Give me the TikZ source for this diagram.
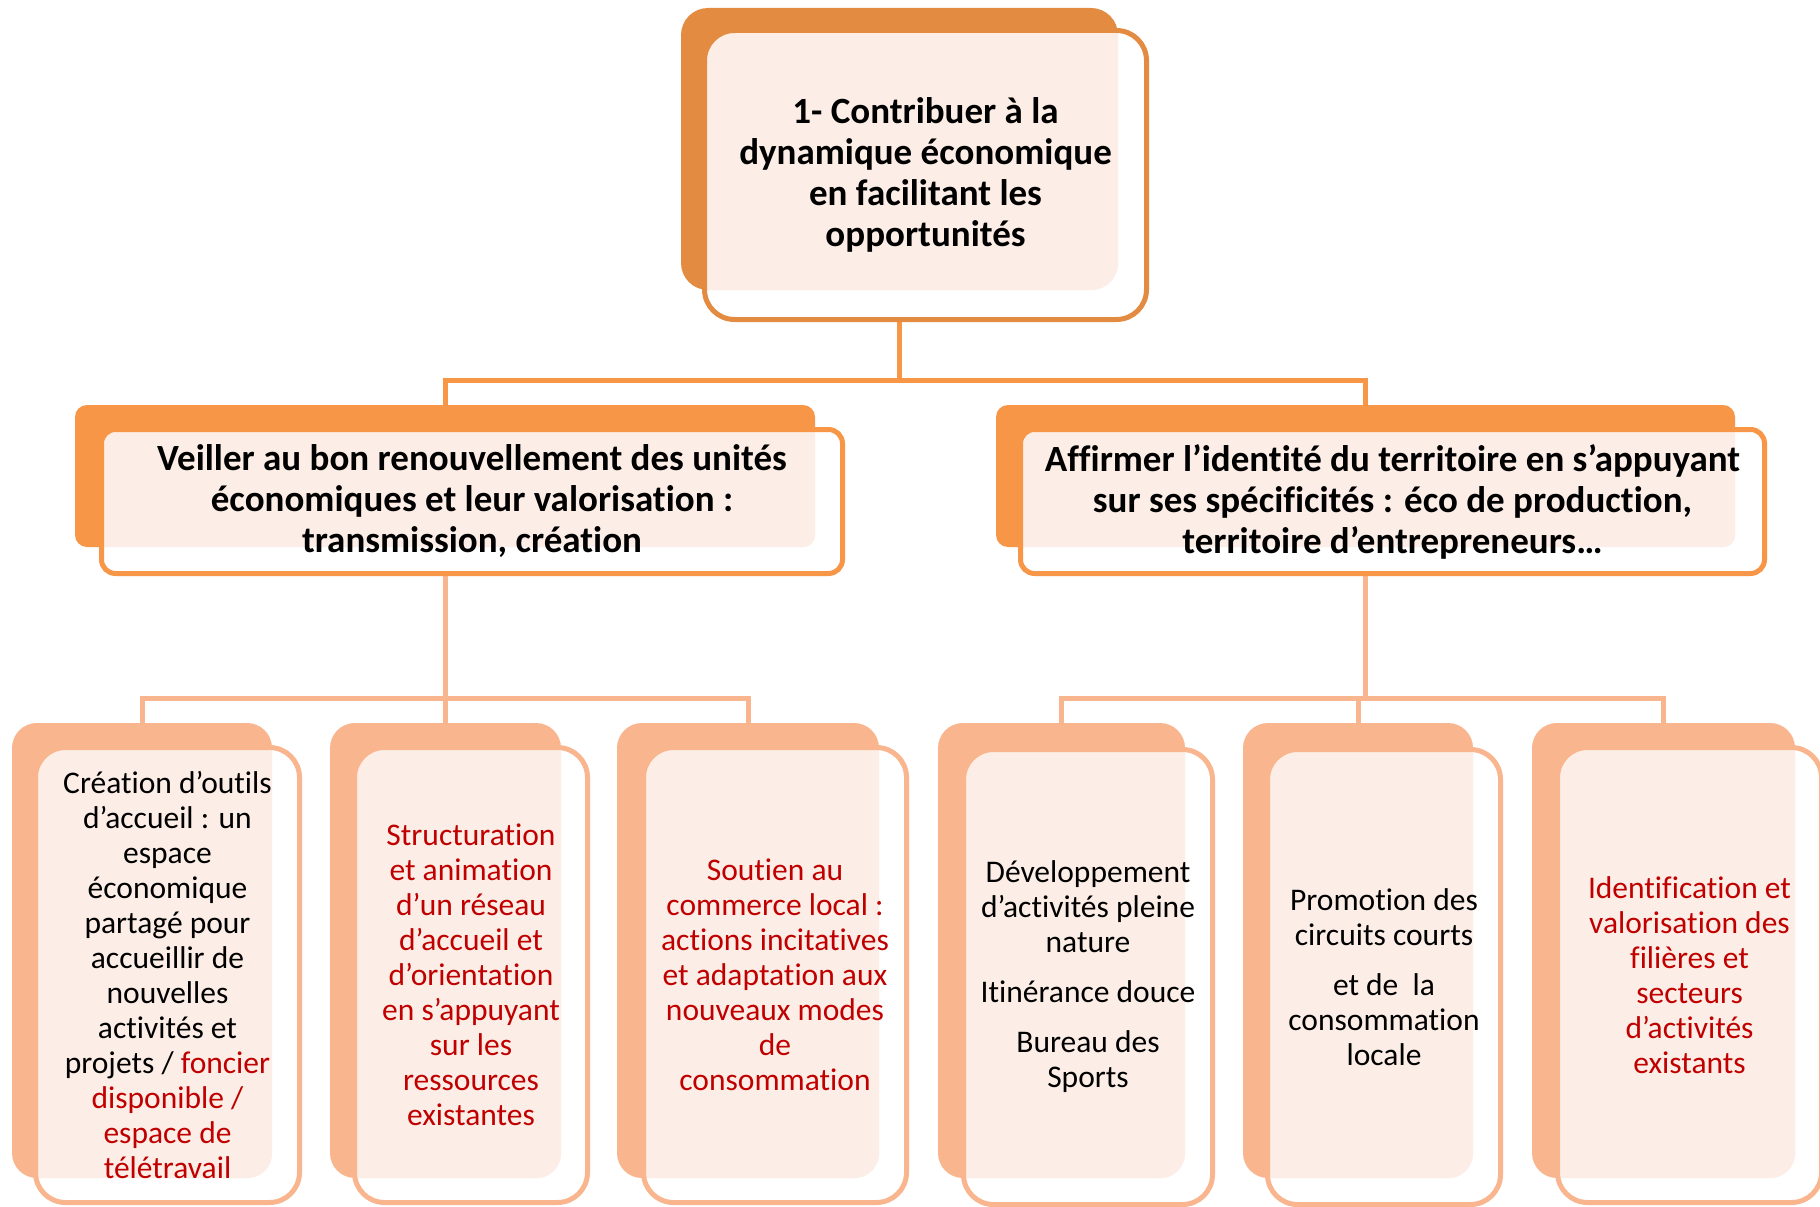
\documentclass[tikz,border=0pt]{standalone}
\usepackage{fontspec}
\setmainfont{Carlito}[Ligatures={NoCommon}]
\usetikzlibrary{calc}
\definecolor{topc}{HTML}{E38B41}
\definecolor{midc}{HTML}{F79646}
\definecolor{lowc}{HTML}{F9B58E}
\definecolor{pinkc}{HTML}{FCEEE6}
\definecolor{redc}{HTML}{C00000}
\tikzset{
  bk/.style={rectangle, inner sep=0pt, fill=#1},
  fr/.style={rectangle, inner sep=0pt, fill=white, draw=#1, line width=5pt, align=center},
  pk/.style 2 args={path picture={\fill[pinkc, rounded corners=#2] ([xshift=-40pt,yshift=40pt]path picture bounding box.north west) rectangle (#1.south east);}},
  tA/.style={font=\fontsize{37}{41}\selectfont\bfseries},
  tC/.style={font=\fontsize{31.5}{35}\selectfont},
  cA/.style={draw=midc, line width=5pt},
  cB/.style={draw=lowc, line width=5pt},
  lowbk/.style={bk=lowc, rounded corners=25pt, minimum height=455pt},
  lowfr/.style={fr=lowc, rounded corners=30pt, minimum height=455pt, tC},
}
\begin{document}
\begin{tikzpicture}[x=1pt,y=-1pt]
\useasboundingbox[fill=white] (0,0) rectangle (1820,1207);
% back shapes
\node[bk=topc, rounded corners=27pt, minimum width=437pt, minimum height=282pt] (tb) at (899.5,149) {};
\node[bk=midc, rounded corners=12pt, minimum width=740pt, minimum height=142pt] (lb) at (445,476) {};
\node[bk=midc, rounded corners=12pt, minimum width=739pt, minimum height=142pt] (rb) at (1365.5,476) {};
\node[lowbk, minimum width=260pt] (b1) at (142,950.5) {};
\node[lowbk, minimum width=231pt] (b2) at (445.5,950.5) {};
\node[lowbk, minimum width=262pt] (b3) at (748,950.5) {};
\node[lowbk, minimum width=247pt] (b4) at (1061.5,950.5) {};
\node[lowbk, minimum width=230pt] (b5) at (1358,950.5) {};
\node[lowbk, minimum width=263pt] (b6) at (1663.5,950.5) {};
% connectors
\draw[cA] (tb.south) -- ++(0,90) -| (lb.north);
\draw[cA] (tb.south) -- ++(0,90) -| (rb.north);
\draw[cB] (lb.south) -- ++(0,151) -| (b1.north);
\draw[cB] (lb.south) -- ++(0,151) -| (b2.north);
\draw[cB] (lb.south) -- ++(0,151) -| (b3.north);
\draw[cB] (rb.south) -- ++(0,151) -| (b4.north);
\draw[cB] (rb.south) -- ++(0,151) -| (b5.north);
\draw[cB] (rb.south) -- ++(0,151) -| (b6.north);
% front shapes with text
\node[fr=topc, pk={tb}{27pt}, rounded corners=30pt, minimum width=442pt, minimum height=289pt, tA] (t) at (925.5,175)
  {1- Contribuer à la\\dynamique économique\\en facilitant les\\opportunités};
\node[fr=midc, pk={lb}{12pt}, rounded corners=14pt, minimum width=741pt, minimum height=144pt, tA] (l) at (472,501.5)
  {Veiller au bon renouvellement des unités\\économiques et leur valorisation :\\transmission, création};
\node[fr=midc, pk={rb}{12pt}, rounded corners=14pt, minimum width=744pt, minimum height=144pt, tA] (r) at (1392.5,501.5)
  {Affirmer l’identité du territoire en s’appuyant\\sur ses spécificités : éco de production,\\territoire d’entrepreneurs…};
\node[lowfr, pk={b1}{25pt}, minimum width=264pt] (f1) at (167.5,975)
  {Création d’outils\\d’accueil : un\\espace\\économique\\partagé pour\\accueillir de\\nouvelles\\activités et\\projets / \textcolor{redc}{foncier}\\\textcolor{redc}{disponible /}\\\textcolor{redc}{espace de}\\\textcolor{redc}{télétravail}};
\node[lowfr, pk={b2}{25pt}, minimum width=233pt, text=redc] (f2) at (471,975)
  {Structuration\\et animation\\d’un réseau\\d’accueil et\\d’orientation\\en s’appuyant\\sur les\\ressources\\existantes};
\node[lowfr, pk={b3}{25pt}, minimum width=263pt, text=redc] (f3) at (775,975)
  {Soutien au\\commerce local :\\actions incitatives\\et adaptation aux\\nouveaux modes\\de\\consommation};
\node[lowfr, pk={b4}{25pt}, minimum width=249pt] (f4) at (1088,977)
  {Développement\\d’activités pleine\\nature\\[15pt]Itinérance douce\\[15pt]Bureau des\\Sports};
\node[lowfr, pk={b5}{25pt}, minimum width=233pt] (f5) at (1384,977)
  {Promotion des\\circuits courts\\[15pt]et de~~la\\consommation\\locale};
\node[lowfr, pk={b6}{25pt}, minimum width=264pt, text=redc] (f6) at (1689.5,975)
  {Identification et\\valorisation des\\filières et\\secteurs\\d’activités\\existants};
\end{tikzpicture}
\end{document}
